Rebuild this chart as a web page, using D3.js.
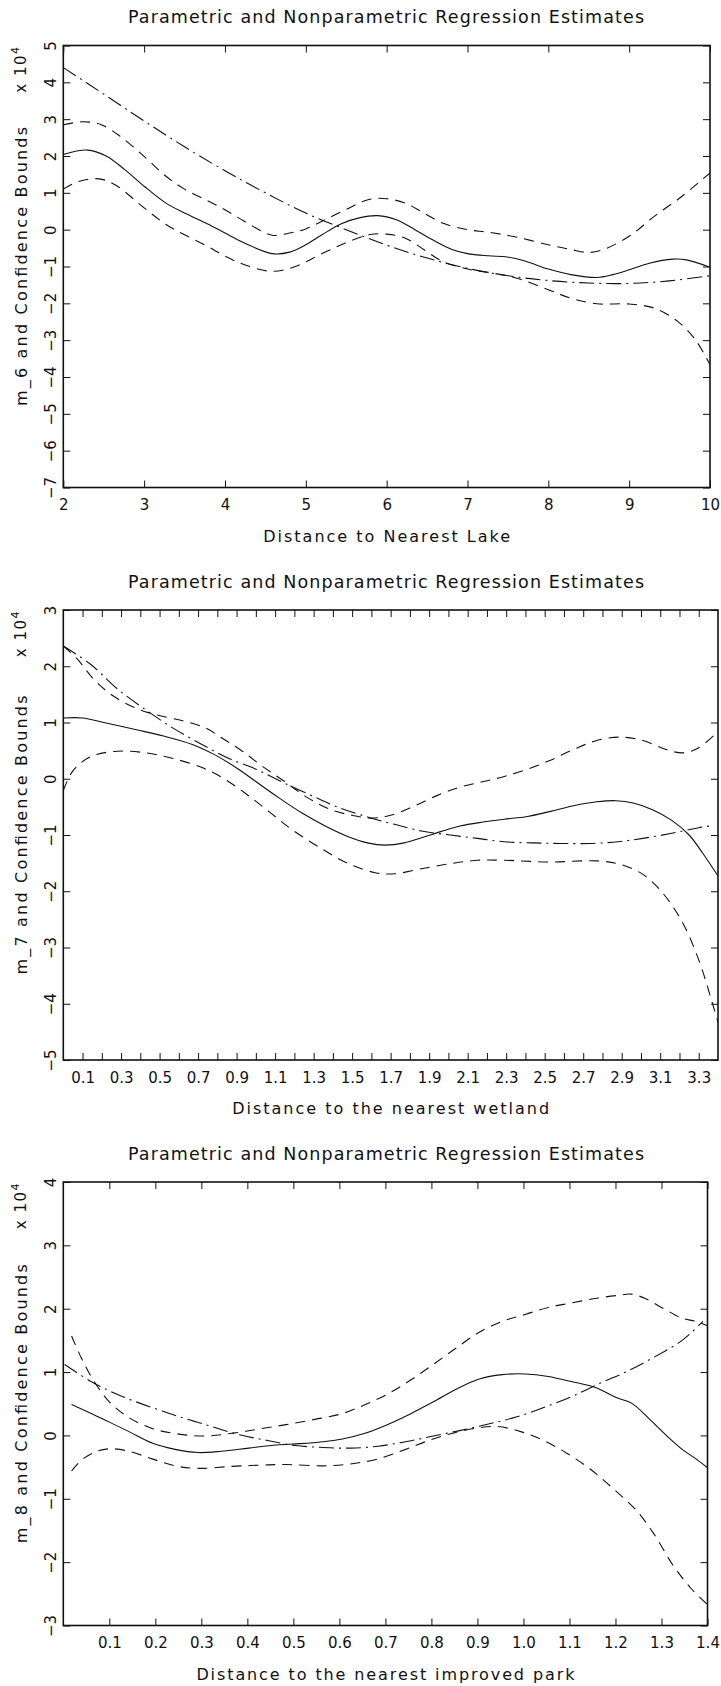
<!DOCTYPE html>
<html>
<head>
<meta charset="utf-8">
<script src="https://cdn.jsdelivr.net/npm/d3@7"></script>
<style>
  body { margin: 0; background: #fff; }
  svg text { font-family: 'DejaVu Sans', sans-serif; fill: #111; }
</style>
</head>
<body>
<div id="chart"></div>
<script>
"use strict";

const titleText = "Parametric and Nonparametric Regression Estimates";

// ---- panel 1: distance to nearest lake (values x 10^4)
const lakeXTicks = [2, 3, 4, 5, 6, 7, 8, 9, 10];
const lakeXLabels = ["2", "3", "4", "5", "6", "7", "8", "9", "10"];
const lakeYTicks = [-7, -6, -5, -4, -3, -2, -1, 0, 1, 2, 3, 4, 5];
const lakeEstimate = [[2.0, 2.04], [2.3, 2.16], [2.53, 2.0], [2.76, 1.63], [3.0, 1.18], [3.27, 0.72], [3.5, 0.45],
    [3.78, 0.16], [4.0, -0.09], [4.24, -0.36], [4.58, -0.65], [4.8, -0.61], [5.0, -0.41], [5.2, -0.14], [5.44, 0.16],
    [5.66, 0.32], [5.89, 0.38], [6.12, 0.27], [6.35, 0.0], [6.58, -0.29], [6.8, -0.53], [7.0, -0.65], [7.26, -0.71],
    [7.49, -0.74], [7.72, -0.86], [8.0, -1.07], [8.28, -1.22], [8.6, -1.30], [8.8, -1.22], [9.0, -1.09], [9.25, -0.91],
    [9.54, -0.8], [9.71, -0.82], [10.0, -1.02]];
const lakeUpper = [[2.0, 2.85], [2.25, 2.93], [2.47, 2.85], [2.7, 2.54], [3.0, 1.99], [3.27, 1.45], [3.5, 1.1],
    [3.78, 0.79], [4.0, 0.54], [4.24, 0.23], [4.58, -0.15], [4.8, -0.09], [5.0, 0.02], [5.2, 0.23], [5.49, 0.54],
    [5.78, 0.82], [6.0, 0.84], [6.23, 0.72], [6.46, 0.45], [6.69, 0.18], [7.0, 0.0], [7.26, -0.07], [7.6, -0.2],
    [8.0, -0.41], [8.28, -0.54], [8.5, -0.62], [8.68, -0.54], [9.0, -0.18], [9.31, 0.36], [9.65, 0.9], [10.0, 1.54]];
const lakeLower = [[2.0, 1.1], [2.19, 1.31], [2.44, 1.38], [2.64, 1.22], [3.0, 0.59], [3.27, 0.14], [3.5, -0.14],
    [3.78, -0.45], [4.0, -0.72], [4.24, -0.95], [4.58, -1.13], [4.87, -1.0], [5.2, -0.65], [5.49, -0.36], [5.78, -0.14],
    [6.0, -0.12], [6.23, -0.23], [6.46, -0.54], [6.69, -0.86], [7.0, -1.07], [7.26, -1.16], [7.6, -1.31], [8.0, -1.63],
    [8.28, -1.86], [8.6, -2.01], [9.0, -2.02], [9.31, -2.13], [9.6, -2.49], [9.82, -2.99], [10.0, -3.67]];
const lakeParam = [[2.0, 4.4], [2.5, 3.68], [3.0, 2.95], [3.5, 2.25], [4.0, 1.6], [4.5, 1.0], [5.0, 0.45], [5.5, 0.0],
    [6.0, -0.42], [6.5, -0.77], [7.0, -1.05], [7.5, -1.25], [8.0, -1.38], [8.5, -1.45], [9.0, -1.46], [9.5, -1.39],
    [10.0, -1.25]];

// ---- panel 2: distance to the nearest wetland
const wetXTicks = [0.1, 0.2, 0.3, 0.4, 0.5, 0.6, 0.7, 0.8, 0.9, 1.0, 1.1, 1.2, 1.3, 1.4, 1.5, 1.6, 1.7, 1.8, 1.9, 2.0,
    2.1, 2.2, 2.3, 2.4, 2.5, 2.6, 2.7, 2.8, 2.9, 3.0, 3.1, 3.2, 3.3];
const wetXLabels = ["0.1", "0.3", "0.5", "0.7", "0.9", "1.1", "1.3", "1.5", "1.7", "1.9", "2.1", "2.3", "2.5", "2.7",
    "2.9", "3.1", "3.3"];
const wetYTicks = [-5, -4, -3, -2, -1, 0, 1, 2, 3];
const wetEstimate = [[0, 1.08], [0.1, 1.08], [0.21, 1.0], [0.38, 0.87], [0.52, 0.76], [0.67, 0.61], [0.79, 0.42],
    [0.91, 0.17], [1.0, -0.05], [1.12, -0.34], [1.24, -0.61], [1.36, -0.84], [1.48, -1.03], [1.58, -1.14], [1.67, -1.18],
    [1.77, -1.14], [1.86, -1.05], [1.96, -0.94], [2.06, -0.84], [2.18, -0.77], [2.29, -0.72], [2.41, -0.67],
    [2.53, -0.58], [2.65, -0.48], [2.77, -0.41], [2.87, -0.39], [2.96, -0.43], [3.06, -0.55], [3.16, -0.74],
    [3.25, -1.0], [3.32, -1.32], [3.4, -1.73]];
const wetUpper = [[0, 2.36], [0.07, 2.14], [0.16, 1.76], [0.26, 1.47], [0.38, 1.25], [0.48, 1.14], [0.62, 1.03],
    [0.74, 0.9], [0.83, 0.71], [0.93, 0.49], [1.03, 0.23], [1.15, -0.05], [1.27, -0.34], [1.39, -0.55], [1.5, -0.65],
    [1.6, -0.70], [1.7, -0.65], [1.82, -0.49], [1.94, -0.3], [2.06, -0.15], [2.18, -0.05], [2.29, 0.04], [2.41, 0.17],
    [2.53, 0.33], [2.65, 0.52], [2.77, 0.68], [2.89, 0.74], [3.01, 0.68], [3.13, 0.52], [3.22, 0.46], [3.3, 0.55],
    [3.4, 0.84]];
const wetLower = [[0, -0.21], [0.05, 0.14], [0.14, 0.39], [0.28, 0.49], [0.43, 0.46], [0.57, 0.36], [0.72, 0.2],
    [0.83, 0.01], [0.95, -0.27], [1.07, -0.59], [1.19, -0.91], [1.34, -1.24], [1.48, -1.51], [1.62, -1.67],
    [1.72, -1.69], [1.86, -1.6], [2.01, -1.51], [2.15, -1.45], [2.29, -1.45], [2.53, -1.48], [2.77, -1.46],
    [2.89, -1.52], [3.01, -1.7], [3.11, -2.02], [3.21, -2.52], [3.3, -3.22], [3.37, -3.98], [3.4, -4.33]];
const wetParam = [[0, 2.36], [0.14, 2.04], [0.28, 1.6], [0.43, 1.22], [0.57, 0.9], [0.72, 0.61], [0.86, 0.36],
    [1.0, 0.17], [1.15, -0.08], [1.29, -0.3], [1.43, -0.51], [1.58, -0.68], [1.72, -0.81], [1.86, -0.93], [2.01, -1.0],
    [2.15, -1.06], [2.29, -1.12], [2.44, -1.14], [2.58, -1.15], [2.74, -1.15], [2.88, -1.12], [3.01, -1.06],
    [3.16, -0.97], [3.3, -0.87], [3.38, -0.83]];

// ---- panel 3: distance to the nearest improved park
const parkXTicks = [0.1, 0.2, 0.3, 0.4, 0.5, 0.6, 0.7, 0.8, 0.9, 1.0, 1.1, 1.2, 1.3, 1.4];
const parkXLabels = ["0.1", "0.2", "0.3", "0.4", "0.5", "0.6", "0.7", "0.8", "0.9", "1.0", "1.1", "1.2", "1.3", "1.4"];
const parkYTicks = [-3, -2, -1, 0, 1, 2, 3, 4];
const parkEstimate = [[0.018, 0.49], [0.063, 0.34], [0.1, 0.21], [0.143, 0.06], [0.193, -0.12], [0.243, -0.22],
    [0.293, -0.27], [0.343, -0.25], [0.403, -0.2], [0.464, -0.15], [0.514, -0.13], [0.564, -0.1], [0.604, -0.06],
    [0.654, 0.03], [0.704, 0.17], [0.754, 0.34], [0.804, 0.53], [0.854, 0.73], [0.904, 0.89], [0.954, 0.96],
    [1.004, 0.97], [1.054, 0.93], [1.104, 0.85], [1.155, 0.76], [1.205, 0.59], [1.235, 0.51], [1.275, 0.25],
    [1.315, -0.03], [1.345, -0.22], [1.375, -0.37], [1.4, -0.51]];
const parkUpper = [[0.018, 1.57], [0.038, 1.24], [0.063, 0.9], [0.1, 0.53], [0.143, 0.28], [0.193, 0.11], [0.243, 0.03],
    [0.303, -0.01], [0.363, 0.03], [0.424, 0.1], [0.484, 0.17], [0.544, 0.25], [0.604, 0.34], [0.654, 0.48],
    [0.704, 0.65], [0.754, 0.87], [0.804, 1.12], [0.854, 1.38], [0.904, 1.63], [0.954, 1.8], [1.004, 1.91],
    [1.054, 2.02], [1.104, 2.09], [1.155, 2.16], [1.205, 2.21], [1.235, 2.23], [1.265, 2.16], [1.305, 2.0],
    [1.345, 1.85], [1.375, 1.8], [1.4, 1.73]];
const parkLower = [[0.018, -0.56], [0.043, -0.37], [0.073, -0.25], [0.103, -0.21], [0.143, -0.25], [0.193, -0.37],
    [0.243, -0.48], [0.293, -0.52], [0.363, -0.49], [0.424, -0.47], [0.484, -0.46], [0.564, -0.48], [0.624, -0.45],
    [0.684, -0.37], [0.744, -0.22], [0.794, -0.08], [0.844, 0.03], [0.894, 0.11], [0.944, 0.14], [0.994, 0.06],
    [1.044, -0.08], [1.094, -0.28], [1.145, -0.53], [1.195, -0.84], [1.245, -1.18], [1.285, -1.57], [1.325, -2.05],
    [1.365, -2.42], [1.4, -2.67]];
const parkParam = [[0.003, 1.12], [0.063, 0.84], [0.123, 0.63], [0.193, 0.44], [0.263, 0.27], [0.323, 0.14],
    [0.383, 0.01], [0.444, -0.08], [0.504, -0.16], [0.564, -0.19], [0.624, -0.2], [0.684, -0.17], [0.744, -0.1],
    [0.804, -0.01], [0.864, 0.08], [0.924, 0.18], [0.984, 0.29], [1.044, 0.44], [1.104, 0.61], [1.165, 0.82],
    [1.225, 1.01], [1.285, 1.24], [1.345, 1.5], [1.39, 1.8]];

const W = 721, H = 1686;
const svg = d3.select("#chart").append("svg").attr("width", W).attr("height", H);

const panels = [
    { id: 1, top: 45.5, bottom: 487.5, left: 63.3, right: 710, xDomain: [2, 10], yDomain: [-7, 5],
      xTicks: lakeXTicks, xLabels: lakeXLabels, xFmt: d3.format("d"), yTicks: lakeYTicks,
      yName: "m_6 and Confidence Bounds", xName: "Distance to Nearest Lake", xNameLen: 247,
      est: lakeEstimate, up: lakeUpper, lo: lakeLower, par: lakeParam },
    { id: 2, top: 610, bottom: 1060, left: 63.3, right: 718, xDomain: [0, 3.4], yDomain: [-5, 3],
      xTicks: wetXTicks, xLabels: wetXLabels, xFmt: d3.format(".1f"), yTicks: wetYTicks,
      yName: "m_7 and Confidence Bounds", xName: "Distance to the nearest wetland", xNameLen: 317,
      est: wetEstimate, up: wetUpper, lo: wetLower, par: wetParam },
    { id: 3, top: 1182, bottom: 1625.5, left: 63.3, right: 707.5, xDomain: [0, 1.4], yDomain: [-3, 4],
      xTicks: parkXTicks, xLabels: parkXLabels, xFmt: d3.format(".1f"), yTicks: parkYTicks,
      yName: "m_8 and Confidence Bounds", xName: "Distance to the nearest improved park", xNameLen: 378,
      est: parkEstimate, up: parkUpper, lo: parkLower, par: parkParam }
];

const tickLen = 7;
const ink = "#111";

function styleAxis(g) {
    g.select(".domain").remove();
    g.selectAll(".tick line").attr("stroke", ink).attr("stroke-width", 1);
    g.attr("font-family", "'DejaVu Sans', sans-serif").attr("font-size", 15);
}

function drawPanel(p) {
    const x = d3.scaleLinear(p.xDomain, [p.left, p.right]);
    const y = d3.scaleLinear(p.yDomain, [p.bottom, p.top]);
    const labeled = new Set(p.xLabels);
    const minus = d => d < 0 ? "\u2212" + Math.abs(d) : String(d);

    svg.append("clipPath").attr("id", "clip" + p.id)
        .append("rect")
        .attr("x", p.left).attr("y", p.top)
        .attr("width", p.right - p.left).attr("height", p.bottom - p.top);

    // inward ticks on all four sides
    svg.append("g")
        .attr("transform", `translate(0,${p.bottom})`)
        .call(d3.axisBottom(x).tickValues(p.xTicks).tickSize(-tickLen).tickPadding(11.5)
            .tickFormat(d => labeled.has(p.xFmt(d)) ? p.xFmt(d) : ""))
        .call(styleAxis)
        .call(g => g.selectAll("text").attr("y", tickLen + 5));

    svg.append("g")
        .attr("transform", `translate(0,${p.top})`)
        .call(d3.axisTop(x).tickValues(p.xTicks).tickSize(-tickLen).tickFormat(""))
        .call(styleAxis);

    svg.append("g")
        .attr("transform", `translate(${p.left},0)`)
        .call(d3.axisLeft(y).tickValues(p.yTicks).tickSize(-tickLen).tickFormat(minus))
        .call(styleAxis)
        .call(g => g.selectAll("text")
            .attr("x", null).attr("dy", null)
            .attr("text-anchor", "middle")
            .attr("transform", "translate(-7.5,0) rotate(-90)"));

    svg.append("g")
        .attr("transform", `translate(${p.right},0)`)
        .call(d3.axisRight(y).tickValues(p.yTicks).tickSize(-tickLen).tickFormat(""))
        .call(styleAxis);

    const line = d3.line()
        .x(d => x(d[0]))
        .y(d => y(d[1]))
        .curve(d3.curveCatmullRom.alpha(0.5));

    const series = [
        { data: p.par, dash: "15,5,2,5" },
        { data: p.up, dash: "10,7" },
        { data: p.lo, dash: "10,7" },
        { data: p.est, dash: null }
    ];

    svg.append("g")
        .attr("clip-path", `url(#clip${p.id})`)
        .selectAll("path")
        .data(series)
        .join("path")
        .attr("d", d => line(d.data))
        .attr("fill", "none")
        .attr("stroke", ink)
        .attr("stroke-width", 1.1)
        .attr("stroke-dasharray", d => d.dash);

    svg.append("rect")
        .attr("x", p.left).attr("y", p.top)
        .attr("width", p.right - p.left).attr("height", p.bottom - p.top)
        .attr("fill", "none")
        .attr("stroke", ink)
        .attr("stroke-width", 1.6);

    svg.append("text")
        .attr("x", 386)
        .attr("y", p.top - 22.5)
        .attr("text-anchor", "middle")
        .attr("font-size", 17.5)
        .attr("textLength", 516)
        .attr("lengthAdjust", "spacing")
        .text(titleText);

    svg.append("text")
        .attr("x", (p.left + p.right) / 2)
        .attr("y", p.bottom + 54)
        .attr("text-anchor", "middle")
        .attr("font-size", 16)
        .attr("textLength", p.xNameLen)
        .attr("lengthAdjust", "spacing")
        .text(p.xName);

    svg.append("text")
        .attr("transform", `translate(27,${(p.top + p.bottom) / 2}) rotate(-90)`)
        .attr("text-anchor", "middle")
        .attr("font-size", 16)
        .attr("textLength", 279)
        .attr("lengthAdjust", "spacing")
        .text(p.yName);

    const mult = svg.append("text")
        .attr("transform", `translate(25.5,${p.top}) rotate(-90)`)
        .attr("text-anchor", "end")
        .attr("letter-spacing", 1.5);
    mult.append("tspan").attr("font-size", 15).text("x 10");
    mult.append("tspan").attr("font-size", 11).attr("dy", "-0.6em").text("4");
}

panels.forEach(drawPanel);
</script>
</body>
</html>
